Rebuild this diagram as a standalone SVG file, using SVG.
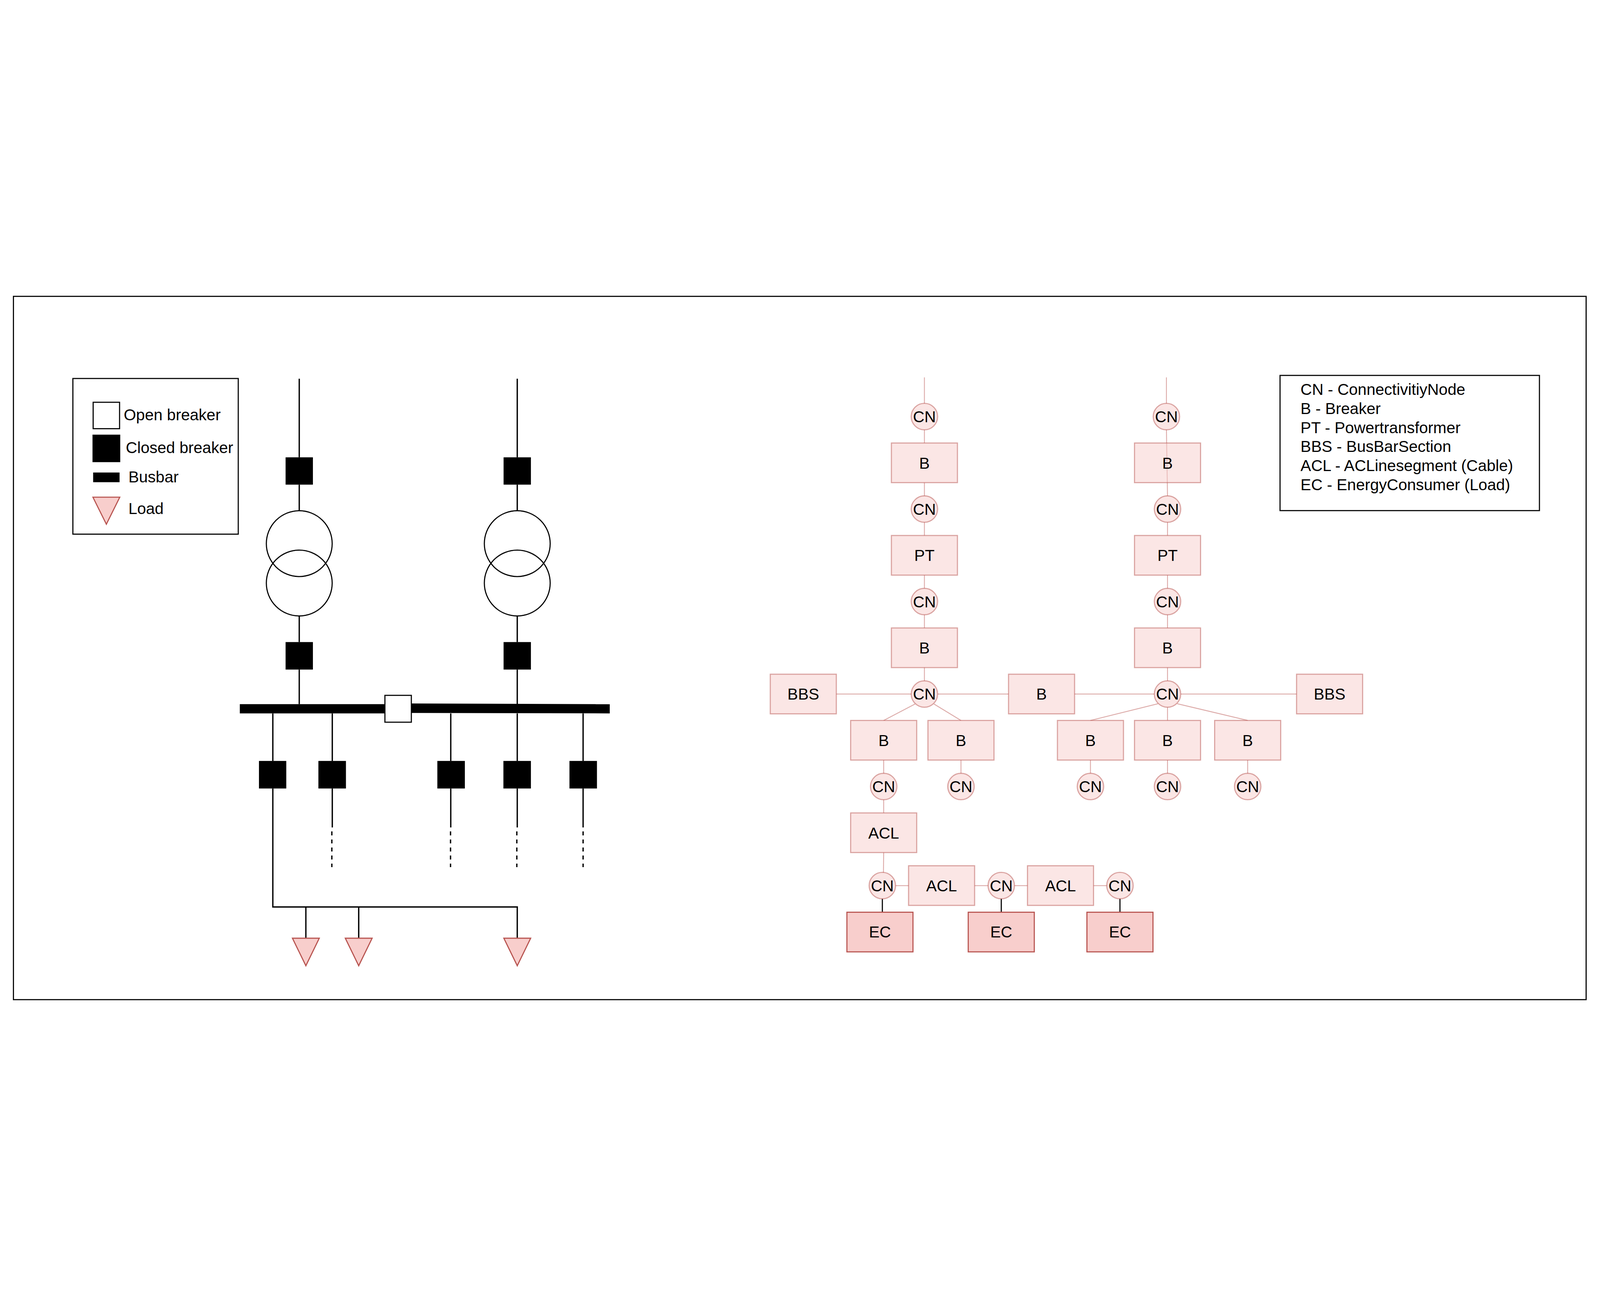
<svg xmlns="http://www.w3.org/2000/svg" width="7266" height="3318" viewBox="0 0 7266 3318">
<style>
svg{width:100vw;height:100vh}
text{font-family:"Liberation Sans",Arial,sans-serif;font-size:72px;fill:#000}
.c{text-anchor:middle}
.k{stroke:#000;stroke-width:6;fill:none}
.dash{stroke:#000;stroke-width:6;fill:none;stroke-dasharray:18 18.5}
.brk{fill:#000;stroke:#000;stroke-width:2}
.open{fill:#fff;stroke:#000;stroke-width:5}
.tr{fill:none;stroke:#000;stroke-width:5}
.load{fill:#f8cecc;stroke:#b85450;stroke-width:5}
.n{fill:#f8cecc;fill-opacity:0.5;stroke:#b85450;stroke-opacity:0.5;stroke-width:5}
.ec{fill:#f8cecc;stroke:#b85450;stroke-width:5}
.e{stroke:#dcaaa8;stroke-width:4;fill:none}
.eb{stroke:#000;stroke-width:5;fill:none}
.box{fill:none;stroke:#000;stroke-width:5}
</style>
<rect x="0" y="0" width="7266" height="3318" fill="#fff"/>
<rect id="frame" class="box" x="61" y="62" width="7142" height="3194"/>

<!-- Left legend -->
<g id="legend-left">
<rect class="box" x="331" y="435" width="751" height="707"/>
<rect class="open" x="423" y="543" width="120" height="120"/>
<text x="562" y="624">Open breaker</text>
<rect class="brk" x="421" y="691" width="124" height="123"/>
<text x="571" y="773">Closed breaker</text>
<rect fill="#000" x="423" y="862" width="120" height="44"/>
<text x="583" y="906">Busbar</text>
<polygon class="load" points="422,974 544,974 483,1097"/>
<text x="583" y="1050">Load</text>
</g>

<!-- Single line diagram -->
<g id="connectors-sld">
<line class="k" x1="1359" y1="436" x2="1359" y2="793"/>
<line class="k" x1="1359" y1="917" x2="1359" y2="1035"/>
<line class="k" x1="1359" y1="1514" x2="1359" y2="1632"/>
<line class="k" x1="1359" y1="1757" x2="1359" y2="1914"/>
<line class="k" x1="2349" y1="436" x2="2349" y2="793"/>
<line class="k" x1="2349" y1="917" x2="2349" y2="1035"/>
<line class="k" x1="2349" y1="1514" x2="2349" y2="1632"/>
<line class="k" x1="2349" y1="1757" x2="2349" y2="1914"/>
<line class="k" x1="1239" y1="1956" x2="1239" y2="2172"/>
<line class="k" x1="1509" y1="1956" x2="1509" y2="2172"/>
<line class="k" x1="2047" y1="1956" x2="2047" y2="2172"/>
<line class="k" x1="2349" y1="1956" x2="2349" y2="2172"/>
<line class="k" x1="2648" y1="1956" x2="2648" y2="2172"/>
<polyline class="k" points="1239,2297 1239,2835 2349,2835 2349,2977"/>
<line class="k" x1="1389" y1="2835" x2="1389" y2="2977"/>
<line class="k" x1="1629" y1="2835" x2="1629" y2="2977"/>
<line class="k" x1="1509" y1="2297" x2="1509" y2="2474"/>
<line class="k" x1="2047" y1="2297" x2="2047" y2="2474"/>
<line class="k" x1="2349" y1="2297" x2="2349" y2="2474"/>
<line class="k" x1="2648" y1="2297" x2="2648" y2="2474"/>
<line class="dash" x1="1507" y1="2492" x2="1507" y2="2654"/>
<line class="dash" x1="2046" y1="2492" x2="2046" y2="2654"/>
<line class="dash" x1="2347" y1="2492" x2="2347" y2="2654"/>
<line class="dash" x1="2648" y1="2492" x2="2648" y2="2654"/>
</g>
<g id="sld-feed1">
<rect class="brk" x="1298" y="794" width="122" height="122"/>
<circle class="tr" cx="1359" cy="1185" r="149.5"/>
<circle class="tr" cx="1359" cy="1364" r="149.5"/>
<rect class="brk" x="1298" y="1633" width="122" height="123"/>
</g>
<g id="sld-feed2">
<rect class="brk" x="2288" y="794" width="122" height="122"/>
<circle class="tr" cx="2349" cy="1185" r="149.5"/>
<circle class="tr" cx="2349" cy="1364" r="149.5"/>
<rect class="brk" x="2288" y="1633" width="122" height="123"/>
</g>
<g id="sld-busbar">
<rect fill="#000" x="1089" y="1914" width="659" height="42"/>
<polygon fill="#000" points="1868,1911 2769,1914 2769,1956 1868,1954"/>
<rect class="open" x="1748" y="1874" width="120" height="122"/>
</g>
<g id="sld-breakers">
<rect class="brk" x="1177" y="2173" width="122" height="123"/>
<rect class="brk" x="1447" y="2173" width="123" height="123"/>
<rect class="brk" x="1987" y="2173" width="123" height="123"/>
<rect class="brk" x="2287" y="2173" width="123" height="123"/>
<rect class="brk" x="2587" y="2173" width="123" height="123"/>
</g>
<g id="sld-loads">
<polygon class="load" points="1328,2977 1450,2977 1389,3102"/>
<polygon class="load" points="1568,2977 1690,2977 1629,3102"/>
<polygon class="load" points="2288,2977 2410,2977 2349,3102"/>
</g>

<!-- CIM model connectors -->
<g id="connectors-cim">
<line class="e" x1="4198" y1="430" x2="4198" y2="548"/>
<line class="e" x1="4198" y1="668" x2="4198" y2="728"/>
<line class="e" x1="4198" y1="908" x2="4198" y2="968"/>
<line class="e" x1="4198" y1="1088" x2="4198" y2="1148"/>
<line class="e" x1="4198" y1="1328" x2="4198" y2="1388"/>
<line class="e" x1="4198" y1="1508" x2="4198" y2="1568"/>
<line class="e" x1="4198" y1="1748" x2="4198" y2="1808"/>
<line class="e" x1="5297" y1="430" x2="5297" y2="548"/>
<line class="e" x1="5297" y1="668" x2="5302" y2="968"/>
<line class="e" x1="5302" y1="1088" x2="5302" y2="1148"/>
<line class="e" x1="5302" y1="1328" x2="5302" y2="1388"/>
<line class="e" x1="5302" y1="1508" x2="5302" y2="1568"/>
<line class="e" x1="5302" y1="1748" x2="5302" y2="1808"/>
<line class="e" x1="3798" y1="1868" x2="4138" y2="1868"/>
<line class="e" x1="4258" y1="1868" x2="4580" y2="1868"/>
<line class="e" x1="4880" y1="1868" x2="5242" y2="1868"/>
<line class="e" x1="5362" y1="1868" x2="5888" y2="1868"/>
<line class="e" x1="4156" y1="1913" x2="4013" y2="1988"/>
<line class="e" x1="4241" y1="1913" x2="4364" y2="1988"/>
<line class="e" x1="5259" y1="1912" x2="4952" y2="1988"/>
<line class="e" x1="5302" y1="1928" x2="5302" y2="1988"/>
<line class="e" x1="5346" y1="1912" x2="5666" y2="1988"/>
<line class="e" x1="4013" y1="2168" x2="4013" y2="2228"/>
<line class="e" x1="4364" y1="2168" x2="4364" y2="2228"/>
<line class="e" x1="4952" y1="2168" x2="4952" y2="2228"/>
<line class="e" x1="5302" y1="2168" x2="5302" y2="2228"/>
<line class="e" x1="5666" y1="2168" x2="5666" y2="2228"/>
<line class="e" x1="4013" y1="2348" x2="4013" y2="2408"/>
<line class="e" x1="4013" y1="2588" x2="4012" y2="2679"/>
<line class="e" x1="4067" y1="2738" x2="4126" y2="2738"/>
<line class="e" x1="4426" y1="2738" x2="4487" y2="2738"/>
<line class="e" x1="4607" y1="2738" x2="4666" y2="2738"/>
<line class="e" x1="4966" y1="2738" x2="5026" y2="2738"/>
<line class="eb" x1="4007" y1="2798" x2="4007" y2="2859"/>
<line class="eb" x1="4547" y1="2798" x2="4547" y2="2859"/>
<line class="eb" x1="5086" y1="2798" x2="5086" y2="2859"/>
</g>

<!-- Left column nodes -->
<g id="cn-l1"><circle class="n" cx="4198" cy="608" r="60"/><text class="c" x="4198" y="634">CN</text></g>
<g id="b-l1"><rect class="n" x="4048" y="728" width="300" height="180"/><text class="c" x="4198" y="844">B</text></g>
<g id="cn-l2"><circle class="n" cx="4198" cy="1028" r="60"/><text class="c" x="4198" y="1054">CN</text></g>
<g id="pt-l"><rect class="n" x="4048" y="1148" width="300" height="180"/><text class="c" x="4198" y="1264">PT</text></g>
<g id="cn-l3"><circle class="n" cx="4198" cy="1448" r="60"/><text class="c" x="4198" y="1474">CN</text></g>
<g id="b-l2"><rect class="n" x="4048" y="1568" width="300" height="180"/><text class="c" x="4198" y="1684">B</text></g>
<g id="cn-l4"><circle class="n" cx="4198" cy="1868" r="60"/><text class="c" x="4198" y="1894">CN</text></g>
<g id="bbs-l"><rect class="n" x="3498" y="1778" width="300" height="180"/><text class="c" x="3648" y="1894">BBS</text></g>
<g id="b-mid"><rect class="n" x="4580" y="1778" width="300" height="180"/><text class="c" x="4730" y="1894">B</text></g>
<g id="b-l3"><rect class="n" x="3863" y="1988" width="300" height="180"/><text class="c" x="4013" y="2104">B</text></g>
<g id="b-l4"><rect class="n" x="4214" y="1988" width="300" height="180"/><text class="c" x="4364" y="2104">B</text></g>
<g id="cn-l5"><circle class="n" cx="4013" cy="2288" r="60"/><text class="c" x="4013" y="2314">CN</text></g>
<g id="cn-l6"><circle class="n" cx="4364" cy="2288" r="60"/><text class="c" x="4364" y="2314">CN</text></g>
<g id="acl-1"><rect class="n" x="3863" y="2408" width="300" height="180"/><text class="c" x="4013" y="2524">ACL</text></g>
<g id="cn-a1"><circle class="n" cx="4007" cy="2738" r="60"/><text class="c" x="4007" y="2764">CN</text></g>
<g id="acl-2"><rect class="n" x="4126" y="2648" width="300" height="180"/><text class="c" x="4276" y="2764">ACL</text></g>
<g id="cn-a2"><circle class="n" cx="4547" cy="2738" r="60"/><text class="c" x="4547" y="2764">CN</text></g>
<g id="acl-3"><rect class="n" x="4666" y="2648" width="300" height="180"/><text class="c" x="4816" y="2764">ACL</text></g>
<g id="cn-a3"><circle class="n" cx="5086" cy="2738" r="60"/><text class="c" x="5086" y="2764">CN</text></g>
<g id="ec-1"><rect class="ec" x="3846" y="2859" width="300" height="180"/><text class="c" x="3996" y="2974">EC</text></g>
<g id="ec-2"><rect class="ec" x="4397" y="2859" width="300" height="180"/><text class="c" x="4547" y="2974">EC</text></g>
<g id="ec-3"><rect class="ec" x="4936" y="2859" width="300" height="180"/><text class="c" x="5086" y="2974">EC</text></g>

<!-- Right column nodes -->
<g id="cn-r1"><circle class="n" cx="5297" cy="608" r="60"/><text class="c" x="5297" y="634">CN</text></g>
<g id="b-r1"><rect class="n" x="5152" y="728" width="300" height="180"/><text class="c" x="5302" y="844">B</text></g>
<g id="cn-r2"><circle class="n" cx="5302" cy="1028" r="60"/><text class="c" x="5302" y="1054">CN</text></g>
<g id="pt-r"><rect class="n" x="5152" y="1148" width="300" height="180"/><text class="c" x="5302" y="1264">PT</text></g>
<g id="cn-r3"><circle class="n" cx="5302" cy="1448" r="60"/><text class="c" x="5302" y="1474">CN</text></g>
<g id="b-r2"><rect class="n" x="5152" y="1568" width="300" height="180"/><text class="c" x="5302" y="1684">B</text></g>
<g id="cn-r4"><circle class="n" cx="5302" cy="1868" r="60"/><text class="c" x="5302" y="1894">CN</text></g>
<g id="bbs-r"><rect class="n" x="5888" y="1778" width="300" height="180"/><text class="c" x="6038" y="1894">BBS</text></g>
<g id="b-r3"><rect class="n" x="4802" y="1988" width="300" height="180"/><text class="c" x="4952" y="2104">B</text></g>
<g id="b-r4"><rect class="n" x="5152" y="1988" width="300" height="180"/><text class="c" x="5302" y="2104">B</text></g>
<g id="b-r5"><rect class="n" x="5516" y="1988" width="300" height="180"/><text class="c" x="5666" y="2104">B</text></g>
<g id="cn-r5"><circle class="n" cx="4952" cy="2288" r="60"/><text class="c" x="4952" y="2314">CN</text></g>
<g id="cn-r6"><circle class="n" cx="5302" cy="2288" r="60"/><text class="c" x="5302" y="2314">CN</text></g>
<g id="cn-r7"><circle class="n" cx="5666" cy="2288" r="60"/><text class="c" x="5666" y="2314">CN</text></g>

<!-- Right legend -->
<g id="legend-right">
<rect class="box" x="5813" y="421" width="1178" height="614"/>
<text x="5906" y="510">CN - ConnectivitiyNode</text>
<text x="5906" y="596">B - Breaker</text>
<text x="5906" y="683">PT - Powertransformer</text>
<text x="5906" y="769">BBS - BusBarSection</text>
<text x="5906" y="856">ACL - ACLinesegment (Cable)</text>
<text x="5906" y="942">EC - EnergyConsumer (Load)</text>
</g>
</svg>
